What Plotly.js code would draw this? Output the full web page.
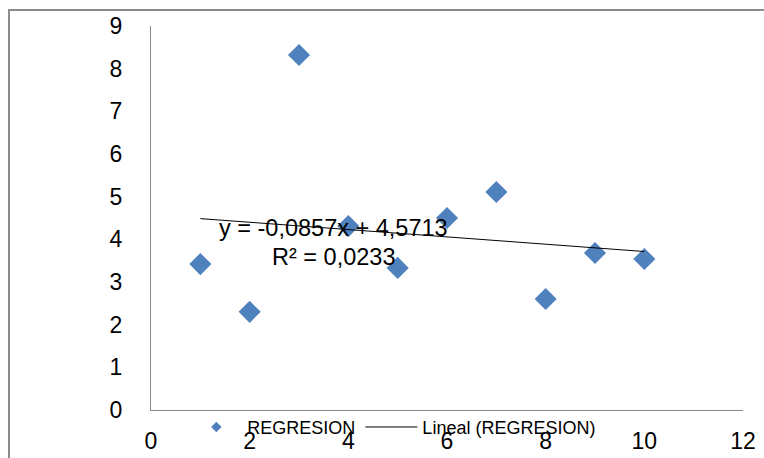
<!DOCTYPE html>
<html>
<head>
<meta charset="utf-8">
<script src="https://cdn.plot.ly/plotly-3.0.1.min.js"></script>
<style>
html,body{margin:0;padding:0;background:#fff;}
#wrap{position:relative;width:764px;height:458px;overflow:hidden;}
#chart{position:absolute;left:0;top:0;width:764px;height:458px;}
#frame{position:absolute;left:8px;top:9px;width:800px;height:500px;border-left:2px solid #8c8c8c;border-top:2px solid #8c8c8c;pointer-events:none;}
</style>
</head>
<body>
<div id="wrap"><div id="chart"></div><div id="frame"></div></div>
<script>
const xValues = [1, 2, 3, 4, 5, 6, 7, 8, 9, 10];
const yValues = [3.42, 2.30, 8.32, 4.31, 3.33, 4.50, 5.11, 2.60, 3.68, 3.54];
const trendSlope = -0.0857;
const trendIntercept = 4.5713;
const rSquared = 0.0233;
const seriesName = "REGRESION";
const trendName = "Lineal (REGRESION)";

const trendX = [Math.min(...xValues), Math.max(...xValues)];
const trendY = trendX.map(x => trendIntercept + trendSlope * x);

const fontFam = "Liberation Sans, Arial, sans-serif";
const blue = '#4F81BD';

const data = [
  {x: xValues, y: yValues, type: 'scatter', mode: 'markers', name: seriesName,
   showlegend: false,
   marker: {symbol: 'diamond', size: 17, color: blue, line: {width: 0}}},
  // legend-only entry (smaller symbol, like the reference legend)
  {x: [null], y: [null], type: 'scatter', mode: 'markers', name: seriesName,
   marker: {symbol: 'diamond', size: 8, color: blue, line: {width: 0}}},
  {x: trendX, y: trendY, type: 'scatter', mode: 'lines', name: trendName,
   line: {color: '#000000', width: 1}}
];

const fmt = v => v.toFixed(4).replace('.', ',');

const layout = {
  width: 764, height: 458,
  margin: {l: 151, r: 21, t: 26, b: 48, pad: 0},
  paper_bgcolor: '#ffffff', plot_bgcolor: '#ffffff',
  font: {family: fontFam, color: '#000000', size: 23},
  separators: ',.',
  showlegend: true,
  legend: {orientation: 'h', x: 0.058, xanchor: 'left', y: -0.045, yanchor: 'middle',
           bgcolor: 'rgba(0,0,0,0)', font: {size: 18, family: fontFam, color: '#000'},
           itemwidth: 52, tracegroupgap: 0},
  xaxis: {range: [0, 12], dtick: 2, tick0: 0, showgrid: false, zeroline: false,
          showline: true, linecolor: '#868686', linewidth: 1, ticks: '',
          ticklabelstandoff: 10, tickfont: {size: 23}, fixedrange: true},
  yaxis: {range: [0, 9], dtick: 1, tick0: 0, showgrid: false, zeroline: false,
          showline: true, linecolor: '#868686', linewidth: 1, ticks: '',
          ticklabelstandoff: 23, tickfont: {size: 23}, fixedrange: true},
  annotations: [
    {xref: 'paper', yref: 'paper', x: 0.309, y: 0.474, xanchor: 'center', yanchor: 'middle',
     text: 'y = ' + fmt(trendSlope) + 'x + ' + fmt(trendIntercept), showarrow: false,
     font: {size: 23.5, family: fontFam, color: '#000'}},
    {xref: 'paper', yref: 'paper', x: 0.309, y: 0.398, xanchor: 'center', yanchor: 'middle',
     text: 'R² = ' + fmt(rSquared), showarrow: false,
     font: {size: 23.5, family: fontFam, color: '#000'}}
  ]
};

Plotly.newPlot('chart', data, layout, {staticPlot: true, displayModeBar: false});
</script>
</body>
</html>
